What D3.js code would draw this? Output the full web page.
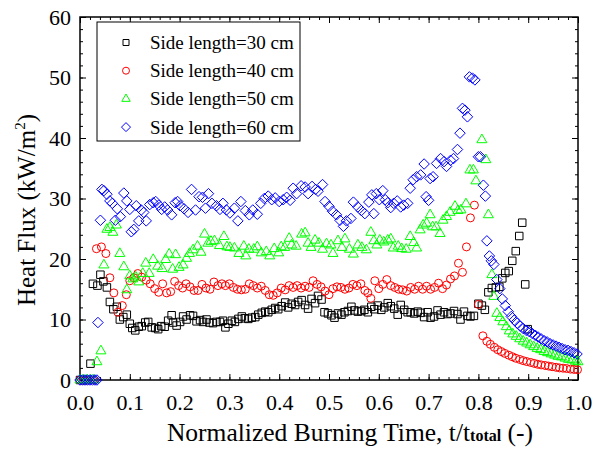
<!DOCTYPE html>
<html>
<head>
<meta charset="utf-8">
<script src="https://cdn.jsdelivr.net/npm/d3@7"></script>
<style>
  body { margin: 0; background: #fff; }
  text { font-family: "Liberation Serif", "Times New Roman", serif; }
</style>
</head>
<body>
<svg id="chart" width="595" height="451"></svg>
<script>
// data: [t/t_total, heat flux kW/m2]
const side30 = [
  [0,0],[0.006,0],[0.012,0],[0.021,2.7],[0.026,15.9],[0.035,15.6],[0.041,17.4],[0.047,16.3],[0.054,15.3],
  [0.060,12.9],[0.067,11.7],[0.074,12.1],[0.080,10.0],[0.087,10.4],[0.094,10.8],[0.100,9.3],[0.105,8.6],
  [0.111,8.2],[0.118,8.8],[0.124,8.9],[0.131,9.5],[0.137,9.6],[0.144,8.7],[0.151,8.6],[0.157,8.4],[0.163,8.9],
  [0.170,8.8],[0.177,9.8],[0.184,10.7],[0.187,9.5],[0.194,9.0],[0.201,9.6],[0.207,10.5],[0.214,10.0],[0.221,10.7],
  [0.227,10.6],[0.234,9.7],[0.241,9.9],[0.247,9.6],[0.254,10.0],[0.260,9.5],[0.267,9.4],[0.274,9.6],[0.281,9.6],
  [0.287,9.8],[0.292,8.7],[0.298,9.3],[0.305,9.8],[0.311,9.6],[0.318,10.1],[0.325,10.5],[0.331,10.2],[0.338,10.1],
  [0.345,10.3],[0.352,10.4],[0.358,10.8],[0.365,11.1],[0.372,11.3],[0.378,11.2],[0.385,11.6],[0.392,11.9],
  [0.398,11.7],[0.405,12.2],[0.412,12.8],[0.418,12.0],[0.425,12.6],[0.432,12.4],[0.438,12.9],[0.445,13.2],
  [0.452,12.4],[0.458,11.8],[0.465,13.4],[0.472,12.7],[0.478,13.9],[0.485,13.3],[0.491,11.2],[0.498,11.0],
  [0.505,10.7],[0.511,10.3],[0.518,11.0],[0.525,10.8],[0.531,11.2],[0.538,11.4],[0.545,12.1],[0.551,11.5],
  [0.558,11.3],[0.565,11.4],[0.571,11.6],[0.578,11.2],[0.585,12.1],[0.591,11.7],[0.598,12.3],[0.605,11.6],
  [0.611,12.0],[0.618,12.7],[0.624,12.2],[0.631,11.8],[0.638,10.8],[0.644,12.4],[0.651,11.6],[0.658,11.2],
  [0.664,11.2],[0.671,11.0],[0.678,11.3],[0.684,11.1],[0.691,10.4],[0.698,11.2],[0.704,10.3],[0.711,10.5],
  [0.718,11.5],[0.724,10.8],[0.731,11.2],[0.738,10.9],[0.744,11.0],[0.751,11.4],[0.758,10.9],[0.764,10.0],
  [0.771,11.3],[0.778,10.6],[0.784,10.5],[0.791,10.6],[0.800,12.6],[0.807,12.3],[0.813,11.6],[0.820,14.5],
  [0.827,15.2],[0.835,15.3],[0.842,15.4],[0.848,16.8],[0.854,17.7],[0.861,18.0],[0.868,19.7],[0.875,21.3],
  [0.882,23.8],[0.888,26.0],[0.894,15.8],[0.899,8.4]
];
const side40 = [
  [0,0],[0.007,0],[0.014,0],[0.021,0],[0.028,0],[0.033,21.7],[0.043,22.0],[0.052,20.9],[0.060,16.9],[0.068,14.4],
  [0.076,11.2],[0.085,12.3],[0.093,14.1],[0.100,16.4],[0.108,16.9],[0.116,17.6],[0.124,17.0],[0.133,16.5],
  [0.141,15.9],[0.150,15.1],[0.158,14.5],[0.166,15.9],[0.174,14.4],[0.182,14.6],[0.190,16.3],[0.198,15.6],
  [0.206,15.2],[0.213,15.9],[0.221,15.4],[0.229,14.8],[0.237,14.8],[0.245,15.8],[0.253,15.2],[0.261,15.0],
  [0.269,16.2],[0.277,15.6],[0.285,15.9],[0.292,15.6],[0.300,15.9],[0.308,15.3],[0.316,15.0],[0.324,14.9],
  [0.332,15.0],[0.340,15.9],[0.348,15.6],[0.356,15.2],[0.364,15.5],[0.372,14.8],[0.380,14.1],[0.388,14.0],
  [0.396,14.4],[0.404,15.2],[0.412,14.9],[0.420,15.6],[0.428,15.3],[0.436,15.6],[0.444,15.2],[0.452,15.5],
  [0.460,15.3],[0.468,16.4],[0.476,15.8],[0.484,15.4],[0.492,14.7],[0.500,14.1],[0.508,15.1],[0.516,15.4],
  [0.524,15.3],[0.532,15.0],[0.540,15.2],[0.548,15.8],[0.556,15.6],[0.564,15.9],[0.572,14.8],[0.578,14.4],
  [0.584,13.5],[0.592,16.4],[0.600,15.1],[0.608,15.8],[0.616,16.6],[0.624,15.6],[0.632,15.3],[0.640,15.0],
  [0.648,14.9],[0.656,14.7],[0.664,15.3],[0.672,15.0],[0.680,15.5],[0.688,15.0],[0.696,15.5],[0.704,15.0],
  [0.712,15.3],[0.720,16.0],[0.728,15.1],[0.736,15.7],[0.744,16.7],[0.752,17.2],[0.760,19.3],[0.768,17.8],
  [0.776,22.0],[0.784,26.8],[0.792,28.9],[0.800,12.5],[0.809,7.3],[0.817,6.4],[0.824,5.9],[0.832,5.4],
  [0.839,5.0],[0.846,4.7],[0.853,4.4],[0.861,4.1],[0.868,3.85],[0.875,3.6],[0.883,3.4],[0.890,3.2],[0.897,3.05],
  [0.905,2.9],[0.912,2.75],[0.919,2.6],[0.926,2.5],[0.934,2.4],[0.941,2.3],[0.948,2.2],[0.956,2.1],[0.963,2.0],
  [0.970,1.95],[0.977,1.9],[0.985,1.8],[0.992,1.75],[0.999,1.7]
];
const side50 = [
  [0,0],[0.007,0],[0.014,0],[0.021,0],[0.028,0],[0.034,3.0],[0.042,4.8],[0.048,19.0],[0.054,24.9],[0.060,25.2],
  [0.066,24.4],[0.073,25.6],[0.080,20.9],[0.088,18.7],[0.094,14.9],[0.100,17.2],[0.106,16.7],[0.112,17.0],
  [0.118,16.2],[0.126,17.6],[0.132,19.3],[0.139,17.6],[0.147,19.9],[0.156,18.8],[0.165,18.4],[0.172,19.9],
  [0.179,20.8],[0.186,18.3],[0.192,20.7],[0.199,18.6],[0.207,19.0],[0.214,20.1],[0.220,20.9],[0.227,21.5],
  [0.236,22.1],[0.243,21.1],[0.250,24.1],[0.257,22.6],[0.263,22.9],[0.270,23.0],[0.280,22.2],[0.289,23.7],
  [0.295,22.0],[0.301,21.9],[0.310,21.8],[0.319,20.9],[0.329,22.1],[0.333,20.5],[0.339,21.6],[0.349,21.6],
  [0.356,22.0],[0.364,21.0],[0.374,21.2],[0.381,20.5],[0.390,21.7],[0.399,21.0],[0.404,22.0],[0.411,21.9],
  [0.420,23.4],[0.425,22.3],[0.434,22.1],[0.445,24.1],[0.452,24.3],[0.458,22.6],[0.464,21.9],[0.472,23.1],
  [0.480,22.6],[0.487,21.6],[0.495,22.5],[0.504,22.3],[0.508,20.9],[0.518,23.0],[0.526,21.9],[0.532,23.3],
  [0.541,21.6],[0.549,20.8],[0.558,22.3],[0.566,21.9],[0.575,21.5],[0.584,24.4],[0.590,23.0],[0.596,22.3],
  [0.602,23.1],[0.610,22.8],[0.618,23.1],[0.624,23.3],[0.629,21.8],[0.639,22.1],[0.646,21.7],[0.655,21.6],
  [0.663,23.7],[0.670,22.7],[0.676,21.8],[0.683,24.8],[0.689,25.6],[0.696,25.9],[0.703,27.3],[0.708,25.3],
  [0.715,25.3],[0.723,24.2],[0.729,26.4],[0.736,27.0],[0.743,27.7],[0.753,28.7],[0.759,28.0],[0.765,28.1],
  [0.775,29.1],[0.783,34.7],[0.790,34.7],[0.795,32.9],[0.807,39.7],[0.815,36.4],[0.820,27.3],[0.827,17.4],
  [0.831,13.8],[0.837,11.0],[0.843,10.3],[0.849,9.6],[0.856,8.8],[0.862,8.1],[0.869,7.6],[0.876,7.2],[0.883,6.8],
  [0.890,6.4],[0.897,6.1],[0.904,5.8],[0.911,5.5],[0.918,5.2],[0.925,5.0],[0.932,4.7],[0.939,4.5],[0.946,4.3],
  [0.953,4.1],[0.960,3.9],[0.967,3.8],[0.974,3.6],[0.981,3.4],[0.988,3.3],[0.995,3.1],[1.0,3.0]
];
const side60 = [
  [0,0],[0.005,0],[0.010,0],[0.015,0],[0.020,0],[0.025,0],[0.030,0],[0.034,0],[0.036,9.5],[0.041,26.4],
  [0.044,31.5],[0.048,31.3],[0.054,30.7],[0.060,29.6],[0.065,29.2],[0.071,26.4],[0.075,28.3],[0.081,27.0],
  [0.088,30.9],[0.094,29.6],[0.100,28.2],[0.103,24.5],[0.108,24.9],[0.113,28.8],[0.118,26.3],[0.123,28.1],
  [0.128,27.7],[0.133,26.3],[0.140,29.0],[0.147,29.3],[0.152,29.5],[0.158,28.9],[0.164,28.2],[0.170,28.6],
  [0.176,28.1],[0.184,27.3],[0.191,29.3],[0.196,29.5],[0.201,28.8],[0.209,28.3],[0.217,27.7],[0.224,31.5],
  [0.232,28.1],[0.239,30.3],[0.246,30.2],[0.252,28.4],[0.258,30.8],[0.265,29.2],[0.274,28.8],[0.281,28.2],
  [0.287,29.2],[0.294,28.1],[0.301,27.6],[0.310,28.4],[0.317,26.3],[0.323,29.5],[0.332,28.0],[0.340,27.3],
  [0.347,28.1],[0.356,27.4],[0.363,29.2],[0.370,30.0],[0.378,30.4],[0.385,29.8],[0.392,30.1],[0.400,29.5],
  [0.408,29.8],[0.415,30.2],[0.422,29.7],[0.428,31.7],[0.435,30.8],[0.444,32.1],[0.452,31.9],[0.458,30.8],
  [0.466,32.0],[0.473,31.5],[0.478,31.2],[0.487,32.3],[0.492,29.5],[0.500,28.7],[0.507,27.9],[0.515,27.3],
  [0.522,26.4],[0.529,25.4],[0.535,26.3],[0.544,26.7],[0.549,29.4],[0.558,28.6],[0.565,28.0],[0.572,27.5],
  [0.580,29.4],[0.586,30.6],[0.590,27.5],[0.595,30.8],[0.601,29.8],[0.608,31.3],[0.613,29.8],[0.618,29.3],
  [0.624,28.5],[0.630,29.2],[0.637,29.6],[0.644,28.6],[0.650,28.9],[0.658,29.2],[0.663,31.7],[0.669,33.1],
  [0.676,33.6],[0.684,33.9],[0.691,35.7],[0.695,30.3],[0.700,29.7],[0.703,33.3],[0.709,33.6],[0.716,35.8],
  [0.724,36.6],[0.731,36.1],[0.736,35.3],[0.744,36.3],[0.750,36.6],[0.758,38.1],[0.763,40.8],[0.768,44.9],
  [0.773,44.6],[0.778,43.5],[0.782,50.1],[0.788,49.9],[0.793,49.6],[0.800,36.9],[0.804,36.9],[0.810,32.2],
  [0.814,30.4],[0.817,23.0],[0.822,20.5],[0.826,19.7],[0.831,19.1],[0.837,16.6],[0.843,15.1],[0.848,13.4],
  [0.854,12.3],[0.860,11.3],[0.866,10.5],[0.872,9.9],[0.878,9.4],[0.884,8.9],[0.890,8.5],[0.896,8.2],[0.902,8.0],
  [0.908,7.7],[0.914,7.4],[0.920,7.1],[0.926,6.8],[0.932,6.5],[0.938,6.3],[0.944,6.0],[0.950,5.8],[0.956,5.6],
  [0.962,5.4],[0.968,5.2],[0.974,5.0],[0.980,4.9],[0.986,4.7],[0.992,4.5],[0.998,4.3]
];

const seriesNames = ["Side length=30 cm", "Side length=40 cm", "Side length=50 cm", "Side length=60 cm"];
const seriesColors = ["#000000", "#ff0000", "#00ff00", "#0000ff"];
const seriesShapes = ["square", "circle", "triangle", "diamond"];
const xTicks = [0, 0.1, 0.2, 0.3, 0.4, 0.5, 0.6, 0.7, 0.8, 0.9, 1.0];
const yTicks = [0, 10, 20, 30, 40, 50, 60];

const margin = { top: 17, right: 17, bottom: 71, left: 80 };
const width = 595 - margin.left - margin.right;
const height = 451 - margin.top - margin.bottom;

const svg = d3.select("#chart")
    .append("g")
    .attr("transform", `translate(${margin.left},${margin.top})`);

const x = d3.scaleLinear().domain([0, 1]).range([0, width]);
const y = d3.scaleLinear().domain([0, 60]).range([height, 0]);

// minor ticks, inward on all four sides
const xMinor = d3.range(0, 1.0001, 0.02);
const yMinor = d3.range(0, 60.001, 2);

function styleAxis(g) {
    g.select(".domain").remove();
    g.selectAll("line").attr("stroke", "#000").attr("stroke-width", 1);
}

svg.append("g").attr("transform", `translate(0,${height})`)
    .call(d3.axisBottom(x).tickValues(xMinor).tickSize(-3).tickFormat(""))
    .call(styleAxis);
svg.append("g")
    .call(d3.axisTop(x).tickValues(xMinor).tickSize(-3).tickFormat(""))
    .call(styleAxis);
svg.append("g")
    .call(d3.axisLeft(y).tickValues(yMinor).tickSize(-3).tickFormat(""))
    .call(styleAxis);
svg.append("g").attr("transform", `translate(${width},0)`)
    .call(d3.axisRight(y).tickValues(yMinor).tickSize(-3).tickFormat(""))
    .call(styleAxis);

// major ticks with labels
svg.append("g").attr("transform", `translate(0,${height})`)
    .call(d3.axisBottom(x).tickValues(xTicks).tickSize(-6).tickPadding(14).tickFormat(d3.format(".1f")))
    .call(styleAxis)
    .call(g => g.selectAll("text").attr("font-size", 22).attr("fill", "#000")
        .attr("font-family", "Liberation Serif"));
svg.append("g")
    .call(d3.axisTop(x).tickValues(xTicks).tickSize(-6).tickFormat(""))
    .call(styleAxis);
svg.append("g")
    .call(d3.axisLeft(y).tickValues(yTicks).tickSize(-6).tickPadding(9))
    .call(styleAxis)
    .call(g => g.selectAll("text").attr("font-size", 22).attr("fill", "#000")
        .attr("font-family", "Liberation Serif"));
svg.append("g").attr("transform", `translate(${width},0)`)
    .call(d3.axisRight(y).tickValues(yTicks).tickSize(-6).tickFormat(""))
    .call(styleAxis);

svg.append("rect")
    .attr("width", width).attr("height", height)
    .attr("fill", "none").attr("stroke", "#000").attr("stroke-width", 1.5);

// marker paths
function markerPath(shape, s) {
    if (shape === "square") return d3.symbol(d3.symbolSquare, s * s)();
    if (shape === "circle") return d3.symbol(d3.symbolCircle, Math.PI * s * s / 4)();
    if (shape === "triangle") return d3.symbol(d3.symbolTriangle, Math.sqrt(3) / 4 * s * s)();
    const h = s / 2;
    return `M0,${-h}L${h},0L0,${h}L${-h},0Z`;
}

const allSeries = [side30, side40, side50, side60];
const markerSize = [7.5, 8, 10, 10.5];

allSeries.forEach((data, i) => {
    svg.append("g")
        .selectAll("path")
        .data(data)
        .enter()
        .append("path")
        .attr("transform", d => `translate(${x(d[0])},${y(d[1])})`)
        .attr("d", markerPath(seriesShapes[i], markerSize[i]))
        .attr("fill", "none")
        .attr("stroke", seriesColors[i])
        .attr("stroke-width", 1);
});

// legend
const legend = svg.append("g").attr("transform", "translate(17,5)");
legend.append("rect")
    .attr("width", 203).attr("height", 119)
    .attr("fill", "#fff").attr("stroke", "#000").attr("stroke-width", 1);
const legendMarker = [6, 7, 8.5, 9];
seriesNames.forEach((name, i) => {
    const row = legend.append("g").attr("transform", `translate(0,${20.5 + i * 28.2})`);
    row.append("path")
        .attr("transform", "translate(29,0)")
        .attr("d", markerPath(seriesShapes[i], legendMarker[i]))
        .attr("fill", "none").attr("stroke", seriesColors[i]).attr("stroke-width", 1);
    row.append("text")
        .attr("x", 53).attr("y", 6.5)
        .attr("font-size", 19)
        .text(name);
});

// axis titles
const xTitle = d3.select("#chart").append("text")
    .attr("x", 350).attr("y", 441)
    .attr("text-anchor", "middle")
    .attr("font-size", 25.5);
xTitle.append("tspan").text("Normalized Burning Time, t/t");
xTitle.append("tspan").attr("font-size", 16).attr("font-weight", "bold").text("total");
xTitle.append("tspan").text(" (-)");

const yTitle = d3.select("#chart").append("text")
    .attr("transform", "translate(35,210) rotate(-90)")
    .attr("text-anchor", "middle")
    .attr("font-size", 25);
yTitle.append("tspan").text("Heat Flux (kW/m");
yTitle.append("tspan").attr("font-size", 15).attr("dy", -10).text("2");
yTitle.append("tspan").attr("dy", 10).text(")");
</script>
</body>
</html>
